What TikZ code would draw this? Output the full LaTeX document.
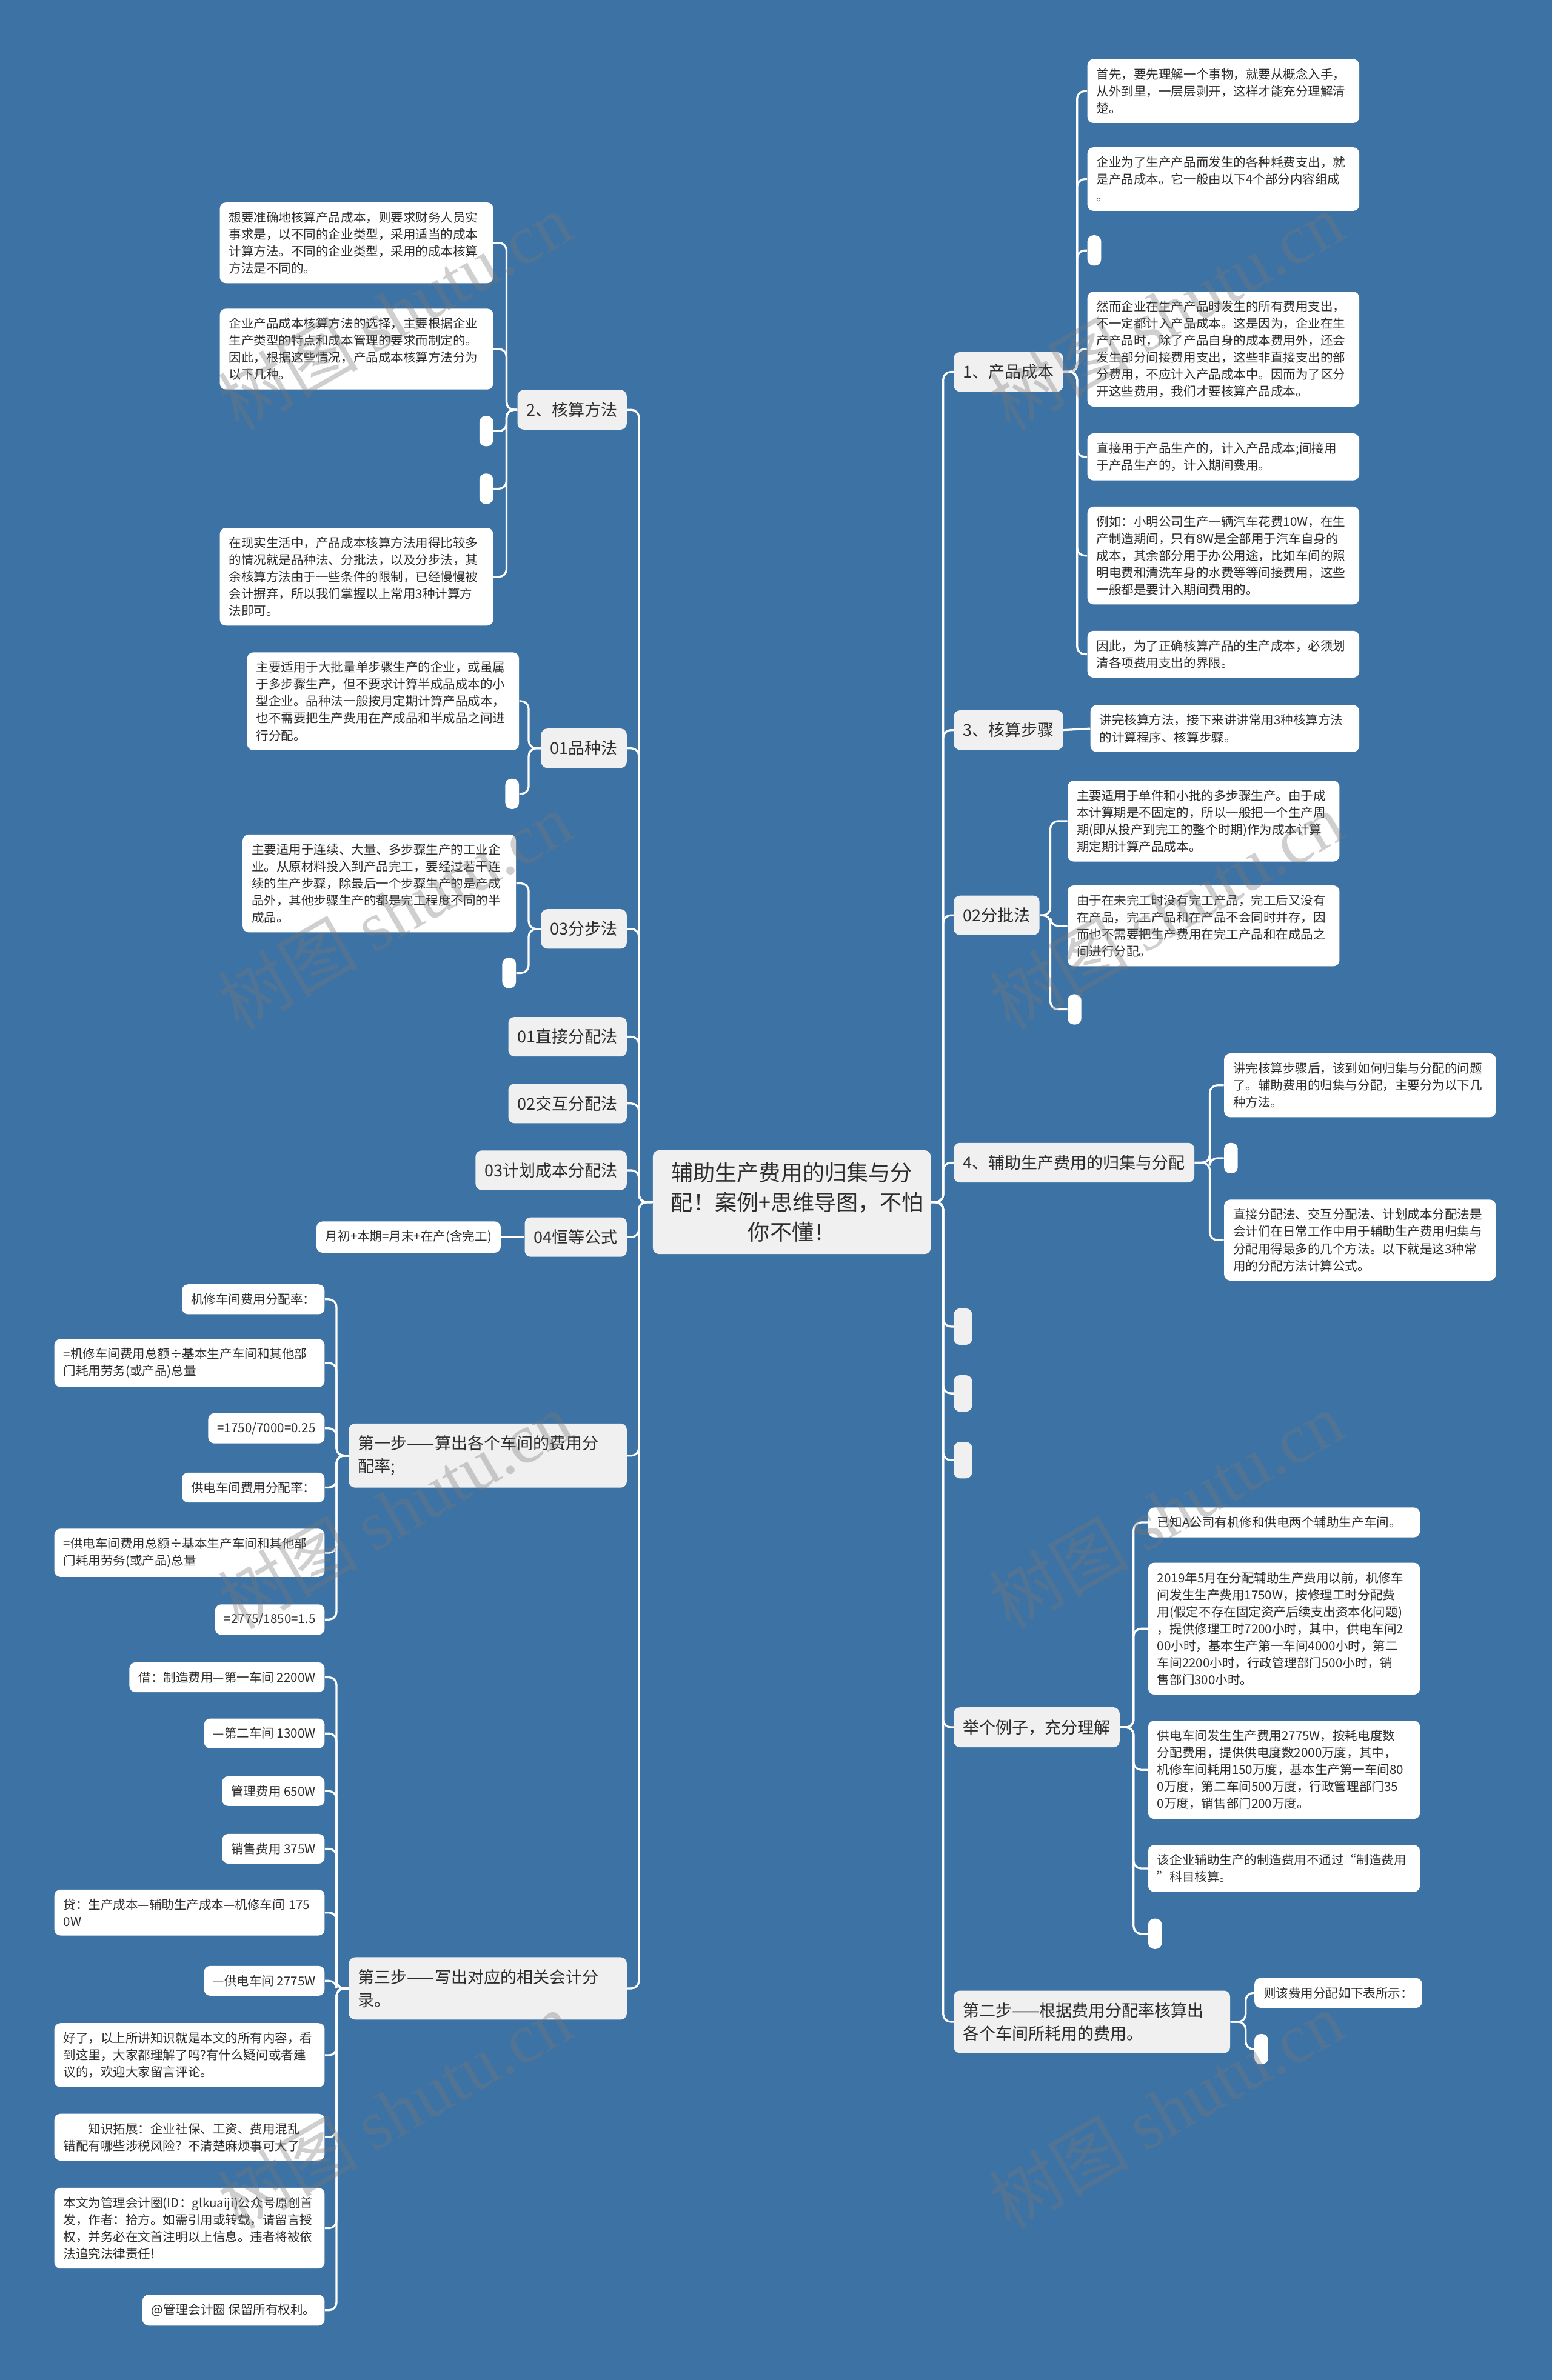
\documentclass[tikz,border=0pt]{standalone}
\usepackage{fontspec}
\setmainfont{Noto Sans CJK SC}
\newfontfamily\wmlatin{Liberation Serif}
\definecolor{bg}{RGB}{61,114,165}
\definecolor{mgray}{RGB}{240,240,240}
\definecolor{txt}{RGB}{45,45,45}
\definecolor{wm}{RGB}{120,120,120}
\tikzset{
  conn/.style={draw=white, line width=1.3pt, rounded corners=5pt},
  centernode/.style={fill=mgray, rounded corners=4pt, text=txt, inner xsep=12pt, inner ysep=8pt,
    align=center, font=\fontsize{14.4}{19.5}\selectfont},
  main/.style={fill=mgray, rounded corners=4pt, text=txt, inner xsep=6pt, inner ysep=8pt,
    align=left, font=\fontsize{10.8}{15}\selectfont},
  leaf/.style={fill=white, rounded corners=4pt, text=txt, inner xsep=6pt, inner ysep=6pt,
    align=left, font=\fontsize{8.2}{11.2}\selectfont},
  stub/.style={fill=white, rounded corners=4pt, minimum width=9pt, minimum height=20pt, inner sep=0pt},
  gstub/.style={fill=mgray, rounded corners=4pt, minimum width=12pt, minimum height=24pt, inner sep=0pt},
  wmark/.style={rotate=30, text=wm, opacity=0.35, font=\fontsize{46}{46}\selectfont, inner sep=0pt}
}
\begin{document}
\begin{tikzpicture}[x=1pt,y=-1pt]
\fill[bg] (0,0) rectangle (1022,1568);
\useasboundingbox (0,0) rectangle (1022,1568);

% centre
\node[centernode, text width=159pt] (C) at (521.5,792) {辅助生产费用的归集与分\\配！案例+思维导图，不怕\\你不懂！};

% right main branches
\node[main, anchor=west] (n1) at (628,245) {1、产品成本};
\node[main, anchor=west] (n3) at (628,481) {3、核算步骤};
\node[main, anchor=west] (n5) at (628,603) {02分批法};
\node[main, anchor=west] (n4) at (628,766) {4、辅助生产费用的归集与分配};
\node[gstub, anchor=west] (g1) at (628,874) {};
\node[gstub, anchor=west] (g2) at (628,918) {};
\node[gstub, anchor=west] (g3) at (628,962) {};
\node[main, anchor=west] (n6) at (628,1138) {举个例子，充分理解};
\node[main, anchor=west, text width=170pt] (n7) at (628,1332) {第二步——根据费用分配率核算出\\各个车间所耗用的费用。};

% leaves of 1
\node[leaf, anchor=west, text width=167pt] (a1) at (716,60) {首先，要先理解一个事物，就要从概念入手，\\从外到里，一层层剥开，这样才能充分理解清\\楚。};
\node[leaf, anchor=west, text width=167pt] (a2) at (716,118) {企业为了生产产品而发生的各种耗费支出，就\\是产品成本。它一般由以下4个部分内容组成\\。};
\node[stub, anchor=west] (a3) at (716,165) {};
\node[leaf, anchor=west, text width=167pt] (a4) at (716,230) {然而企业在生产产品时发生的所有费用支出，\\不一定都计入产品成本。这是因为，企业在生\\产产品时，除了产品自身的成本费用外，还会\\发生部分间接费用支出，这些非直接支出的部\\分费用，不应计入产品成本中。因而为了区分\\开这些费用，我们才要核算产品成本。};
\node[leaf, anchor=west, text width=167pt] (a5) at (716,301) {直接用于产品生产的，计入产品成本;间接用\\于产品生产的，计入期间费用。};
\node[leaf, anchor=west, text width=167pt] (a6) at (716,366) {例如：小明公司生产一辆汽车花费10W，在生\\产制造期间，只有8W是全部用于汽车自身的\\成本，其余部分用于办公用途，比如车间的照\\明电费和清洗车身的水费等等间接费用，这些\\一般都是要计入期间费用的。};
\node[leaf, anchor=west, text width=167pt] (a7) at (716,431) {因此，为了正确核算产品的生产成本，必须划\\清各项费用支出的界限。};

% leaf of 3
\node[leaf, anchor=west, text width=165pt] (k3) at (718,480) {讲完核算方法，接下来讲讲常用3种核算方法\\的计算程序、核算步骤。};

% leaves of 02分批法
\node[leaf, anchor=west, text width=167pt] (b1) at (703,541) {主要适用于单件和小批的多步骤生产。由于成\\本计算期是不固定的，所以一般把一个生产周\\期(即从投产到完工的整个时期)作为成本计算\\期定期计算产品成本。};
\node[leaf, anchor=west, text width=167pt] (b2) at (703,610) {由于在未完工时没有完工产品，完工后又没有\\在产品，完工产品和在产品不会同时并存，因\\而也不需要把生产费用在完工产品和在成品之\\间进行分配。};
\node[stub, anchor=west] (b3) at (703,665) {};

% leaves of 4
\node[leaf, anchor=west, text width=167pt] (c1) at (806,715) {讲完核算步骤后，该到如何归集与分配的问题\\了。辅助费用的归集与分配，主要分为以下几\\种方法。};
\node[stub, anchor=west] (c2) at (806,763) {};
\node[leaf, anchor=west, text width=167pt] (c3) at (806,817) {直接分配法、交互分配法、计划成本分配法是\\会计们在日常工作中用于辅助生产费用归集与\\分配用得最多的几个方法。以下就是这3种常\\用的分配方法计算公式。};

% leaves of 举个例子
\node[leaf, anchor=west, text width=167pt] (d1) at (756,1003) {已知A公司有机修和供电两个辅助生产车间。};
\node[leaf, anchor=west, text width=167pt] (d2) at (756,1073) {2019年5月在分配辅助生产费用以前，机修车\\间发生生产费用1750W，按修理工时分配费\\用(假定不存在固定资产后续支出资本化问题)\\，提供修理工时7200小时，其中，供电车间2\\00小时，基本生产第一车间4000小时，第二\\车间2200小时，行政管理部门500小时，销\\售部门300小时。};
\node[leaf, anchor=west, text width=167pt] (d3) at (756,1166) {供电车间发生生产费用2775W，按耗电度数\\分配费用，提供供电度数2000万度，其中，\\机修车间耗用150万度，基本生产第一车间80\\0万度，第二车间500万度，行政管理部门35\\0万度，销售部门200万度。};
\node[leaf, anchor=west, text width=167pt] (d4) at (756,1231) {该企业辅助生产的制造费用不通过“制造费用\\”科目核算。};
\node[stub, anchor=west] (d5) at (756,1274) {};

% leaves of 第二步
\node[leaf, anchor=west] (e1) at (826,1313) {则该费用分配如下表所示：};
\node[stub, anchor=west] (e2) at (826,1350) {};

% left main branches
\node[main, anchor=east] (m2) at (413,270) {2、核算方法};
\node[main, anchor=east] (m01) at (413,493) {01品种法};
\node[main, anchor=east] (m03) at (413,612) {03分步法};
\node[main, anchor=east] (md1) at (413,683) {01直接分配法};
\node[main, anchor=east] (md2) at (413,727) {02交互分配法};
\node[main, anchor=east] (md3) at (413,771) {03计划成本分配法};
\node[main, anchor=east] (md4) at (413,815) {04恒等公式};
\node[main, anchor=east, text width=171pt] (ms1) at (413,959) {第一步——算出各个车间的费用分\\配率;};
\node[main, anchor=east, text width=171pt] (ms3) at (413,1310) {第三步——写出对应的相关会计分\\录。};

% leaves of 2
\node[leaf, anchor=east, text width=168pt] (f1) at (325,160) {想要准确地核算产品成本，则要求财务人员实\\事求是，以不同的企业类型，采用适当的成本\\计算方法。不同的企业类型，采用的成本核算\\方法是不同的。};
\node[leaf, anchor=east, text width=168pt] (f2) at (325,230) {企业产品成本核算方法的选择，主要根据企业\\生产类型的特点和成本管理的要求而制定的。\\因此，根据这些情况，产品成本核算方法分为\\以下几种。};
\node[stub, anchor=east] (f3) at (325,284) {};
\node[stub, anchor=east] (f4) at (325,322) {};
\node[leaf, anchor=east, text width=168pt] (f5) at (325,380) {在现实生活中，产品成本核算方法用得比较多\\的情况就是品种法、分批法，以及分步法，其\\余核算方法由于一些条件的限制，已经慢慢被\\会计摒弃，所以我们掌握以上常用3种计算方\\法即可。};

% leaves of 01品种法
\node[leaf, anchor=east, text width=167pt] (p1) at (342,462) {主要适用于大批量单步骤生产的企业，或虽属\\于多步骤生产，但不要求计算半成品成本的小\\型企业。品种法一般按月定期计算产品成本，\\也不需要把生产费用在产成品和半成品之间进\\行分配。};
\node[stub, anchor=east] (p2) at (342,523) {};

% leaves of 03分步法
\node[leaf, anchor=east, text width=168pt] (h1) at (340,582) {主要适用于连续、大量、多步骤生产的工业企\\业。从原材料投入到产品完工，要经过若干连\\续的生产步骤，除最后一个步骤生产的是产成\\品外，其他步骤生产的都是完工程度不同的半\\成品。};
\node[stub, anchor=east] (h2) at (340,641) {};

% leaf of 04
\node[leaf, anchor=east] (k4) at (330,815) {月初+本期=月末+在产(含完工)};

% leaves of 第一步
\node[leaf, anchor=east] (i1) at (214,856) {机修车间费用分配率：};
\node[leaf, anchor=east, text width=166pt] (i2) at (214,898) {=机修车间费用总额÷基本生产车间和其他部\\门耗用劳务(或产品)总量};
\node[leaf, anchor=east] (i3) at (214,941) {=1750/7000=0.25};
\node[leaf, anchor=east] (i4) at (214,980) {供电车间费用分配率：};
\node[leaf, anchor=east, text width=166pt] (i5) at (214,1023) {=供电车间费用总额÷基本生产车间和其他部\\门耗用劳务(或产品)总量};
\node[leaf, anchor=east] (i6) at (214,1067) {=2775/1850=1.5};

% leaves of 第三步
\node[leaf, anchor=east] (j1) at (214,1105) {借：制造费用—第一车间~2200W};
\node[leaf, anchor=east] (j2) at (214,1142) {—第二车间~1300W};
\node[leaf, anchor=east] (j3) at (214,1180) {管理费用~650W};
\node[leaf, anchor=east] (j4) at (214,1218) {销售费用~375W};
\node[leaf, anchor=east, text width=166pt] (j5) at (214,1260) {贷：生产成本—辅助生产成本—机修车间~175\\0W};
\node[leaf, anchor=east] (j6) at (214,1305) {—供电车间~2775W};
\node[leaf, anchor=east, text width=166pt] (j7) at (214,1354) {好了，以上所讲知识就是本文的所有内容，看\\到这里，大家都理解了吗?有什么疑问或者建\\议的，欢迎大家留言评论。};
\node[leaf, anchor=east, text width=166pt] (j8) at (214,1408) {　　知识拓展：企业社保、工资、费用混乱\\错配有哪些涉税风险？不清楚麻烦事可大了};
\node[leaf, anchor=east, text width=166pt] (j9) at (214,1468) {本文为管理会计圈(ID：glkuaiji)公众号原创首\\发，作者：拾方。如需引用或转载，请留言授\\权，并务必在文首注明以上信息。违者将被依\\法追究法律责任!};
\node[leaf, anchor=east] (j10) at (214,1522) {@管理会计圈~保留所有权利。};

% connectors, right side
\foreach \c in {n1,n3,n5,n4,g1,g2,g3,n6,n7}
  \draw[conn] (C.east) -- ++(8,0) |- (\c.west);
\foreach \c in {a1,a2,a3,a4,a5,a6,a7}
  \draw[conn] (n1.east) -- ++(9,0) |- (\c.west);
\draw[conn] (n3.east) -- (k3.west);
\foreach \c in {b1,b2,b3}
  \draw[conn] (n5.east) -- ++(7,0) |- (\c.west);
\foreach \c in {c1,c2,c3}
  \draw[conn] (n4.east) -- ++(10,0) |- (\c.west);
\foreach \c in {d1,d2,d3,d4,d5}
  \draw[conn] (n6.east) -- ++(9,0) |- (\c.west);
\foreach \c in {e1,e2}
  \draw[conn] (n7.east) -- ++(10,0) |- (\c.west);

% connectors, left side
\foreach \c in {m2,m01,m03,md1,md2,md3,md4,ms1,ms3}
  \draw[conn] (C.west) -- ++(-9,0) |- (\c.east);
\foreach \c in {f1,f2,f3,f4,f5}
  \draw[conn] (m2.west) -- ++(-7,0) |- (\c.east);
\foreach \c in {p1,p2}
  \draw[conn] (m01.west) -- ++(-8,0) |- (\c.east);
\foreach \c in {h1,h2}
  \draw[conn] (m03.west) -- ++(-8,0) |- (\c.east);
\draw[conn] (md4.west) -- (k4.east);
\foreach \c in {i1,i2,i3,i4,i5,i6}
  \draw[conn] (ms1.west) -- ++(-8,0) |- (\c.east);
\foreach \c in {j1,j2,j3,j4,j5,j6,j7,j8,j9,j10}
  \draw[conn] (ms3.west) -- ++(-8,0) |- (\c.east);

% watermarks
\foreach \wx in {260,768}
  \foreach \wy in {205,600,995,1390}
    \node[wmark] at (\wx,\wy) {树图 {\wmlatin shutu.cn}};
\end{tikzpicture}
\end{document}
